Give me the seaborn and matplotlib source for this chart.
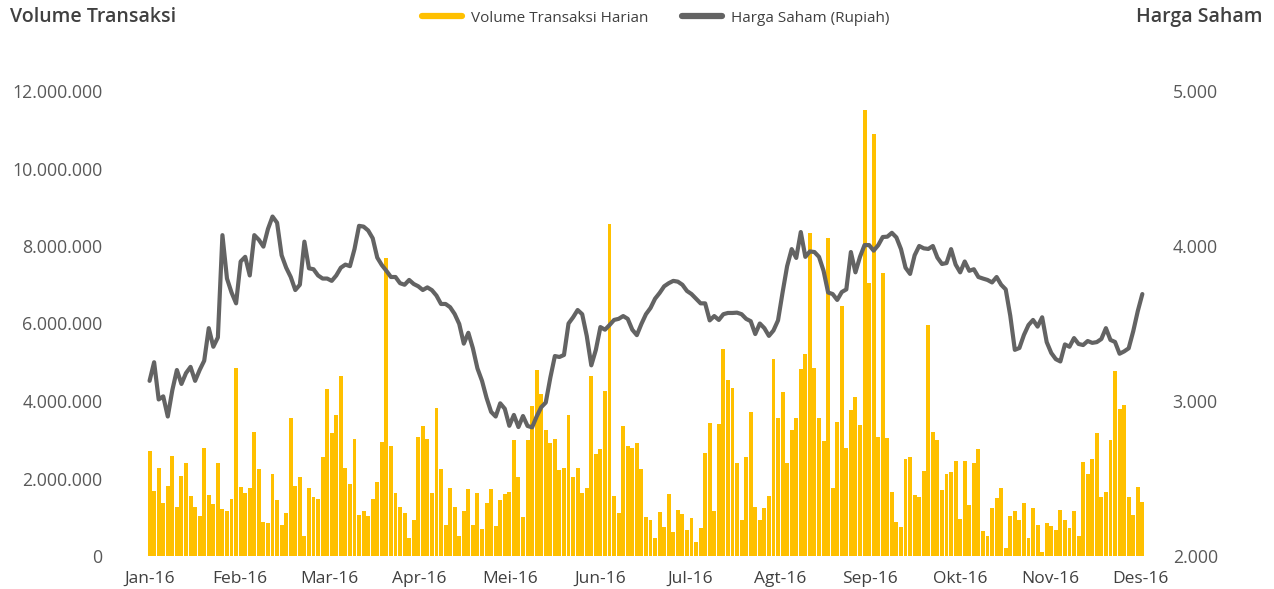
import numpy as np
import pandas as pd
import matplotlib
matplotlib.use("Agg")
import matplotlib.pyplot as plt
import seaborn as sns
from matplotlib.lines import Line2D
from matplotlib.ticker import FuncFormatter

months = ["Jan-16", "Feb-16", "Mar-16", "Apr-16", "Mei-16", "Jun-16",
          "Jul-16", "Agt-16", "Sep-16", "Okt-16", "Nov-16", "Des-16"]

# daily transaction volume, in millions of shares
volume_millions = [
    2.71, 1.68, 2.27, 1.37, 1.81, 2.58, 1.26, 2.06, 2.40, 1.55, 1.26, 1.03, 2.79, 1.57, 1.34, 2.40, 1.21,
    1.16, 1.47, 4.85, 1.78, 1.63, 1.75, 3.20, 2.25, 0.88, 0.85, 2.12, 1.45, 0.80, 1.11, 3.56, 1.81, 2.04, 0.52, 1.75, 1.52, 1.47, 2.55, 4.31,
    3.17, 3.64, 4.65, 2.27, 1.86, 3.02, 1.06, 1.16, 1.03, 1.47, 1.91, 2.94, 7.69, 2.84, 1.63, 1.26, 1.11, 0.46, 0.93, 3.07, 3.35, 3.02, 1.63,
    3.82, 2.25, 0.80, 1.75, 1.26, 0.52, 1.16, 1.73, 0.80, 1.63, 0.70, 1.37, 1.73, 0.77, 1.45, 1.60, 1.65, 2.99, 2.04, 1.01, 2.99, 3.87, 4.80,
    4.18, 3.25, 2.92, 3.02, 2.22, 2.27, 3.64, 2.04, 2.27, 1.63, 1.75, 4.65, 2.63, 2.76, 4.26, 8.57, 1.55, 1.11, 3.35, 2.84, 2.79, 2.92, 2.25,
    1.01, 0.93, 0.46, 1.14, 0.75, 1.60, 0.62, 1.19, 1.08, 0.67, 0.98, 0.36, 0.72, 2.66, 3.43, 1.16, 3.41, 5.34, 4.54, 4.34, 2.40, 0.93, 2.55,
    3.72, 1.26, 0.93, 1.24, 1.55, 5.08, 3.56, 4.23, 2.40, 3.25, 3.56, 4.83, 5.21, 8.34, 4.85, 3.56, 2.97, 8.21, 1.75, 3.46, 6.45, 2.79, 3.77,
    4.10, 3.38, 11.51, 7.05, 10.89, 3.07, 7.30, 3.05, 1.65, 0.88, 0.75, 2.50, 2.55, 1.57, 1.52, 2.19, 5.96, 3.20, 2.99, 1.70, 2.12, 2.17, 2.45,
    0.95, 2.45, 1.32, 2.40, 2.76, 0.65, 0.52, 1.24, 1.50, 1.75, 0.21, 1.03, 1.16, 0.93, 1.37, 0.46, 1.24, 0.80, 0.10, 0.85, 0.77, 0.67, 1.19,
    0.93, 0.72, 1.16, 0.52, 2.43, 2.12, 2.50, 3.17, 1.52, 1.65, 2.99, 4.77, 3.79, 3.90, 1.52, 1.06, 1.78, 1.39,
]

# share price (Rupiah)
price_rupiah = [
    3130, 3250, 3010, 3030, 2900, 3070, 3200, 3110, 3180, 3220, 3130, 3200, 3260, 3470, 3350, 3410, 4070,
    3790, 3700, 3630, 3900, 3930, 3810, 4070, 4040, 3996, 4110, 4190, 4150, 3940, 3860, 3800, 3716, 3750, 4028, 3856, 3850, 3810, 3790, 3790,
    3775, 3810, 3860, 3880, 3870, 3980, 4130, 4125, 4100, 4050, 3925, 3877, 3840, 3800, 3800, 3760, 3750, 3781, 3755, 3740, 3716, 3733, 3715,
    3680, 3626, 3626, 3605, 3561, 3497, 3370, 3440, 3340, 3210, 3130, 3020, 2930, 2900, 2985, 2950, 2840, 2910, 2832, 2903, 2839, 2830, 2900,
    2960, 2990, 3150, 3290, 3284, 3297, 3500, 3540, 3587, 3560, 3420, 3230, 3330, 3477, 3460, 3490, 3523, 3530, 3548, 3530, 3460, 3425, 3497,
    3560, 3600, 3660, 3697, 3740, 3760, 3775, 3770, 3750, 3710, 3690, 3660, 3630, 3630, 3520, 3548, 3523, 3560, 3568, 3568, 3570, 3560, 3530,
    3515, 3432, 3500, 3470, 3420, 3455, 3520, 3700, 3870, 3980, 3923, 4090, 3930, 3965, 3961, 3930, 3840, 3700, 3690, 3652, 3703, 3720, 3961,
    3830, 3930, 4006, 4006, 3970, 4005, 4058, 4060, 4085, 4055, 3980, 3860, 3820, 3940, 4000, 3985, 3981, 4000, 3925, 3884, 3890, 3980, 3880,
    3830, 3900, 3840, 3850, 3800, 3790, 3781, 3765, 3800, 3750, 3720, 3550, 3330, 3342, 3426, 3490, 3523, 3480, 3540, 3380, 3310, 3270, 3255,
    3365, 3350, 3406, 3368, 3361, 3387, 3375, 3380, 3400, 3470, 3394, 3381, 3305, 3320, 3340, 3450, 3580, 3690,
]

BAR = "#FFC000"
LINE = "#636363"
TXT = "#404040"

n = len(volume_millions)
df = pd.DataFrame({
    "day": np.arange(n),
    "volume": np.array(volume_millions) * 1_000_000,
    "price": price_rupiah,
})

sns.set_theme(style="white")
plt.rcParams["font.family"] = ["Open Sans", "DejaVu Sans"]

W, H = 1274, 589
fig = plt.figure(figsize=(W / 100, H / 100), dpi=100)
ax = fig.add_axes([140 / W, 33 / H, 1016 / W, 465 / H])

sns.barplot(data=df, x="day", y="volume", color=BAR, saturation=1,
            width=0.86, native_scale=True, ax=ax, linewidth=0)
ax.set_xlim(-2.1, 221)
ax.set_ylim(0, 12_000_000)

ax2 = ax.twinx()
sns.lineplot(data=df, x="day", y="price", color=LINE, linewidth=3.0, ax=ax2)
ax2.set_ylim(2000, 5000)
ax2.set_xlim(-2.1, 221)

dot = lambda v, p: f"{int(round(v)):,}".replace(",", ".")
ax.set_yticks(np.arange(0, 12_000_001, 2_000_000))
ax.yaxis.set_major_formatter(FuncFormatter(dot))
ax2.set_yticks(np.arange(2000, 5001, 1000))
ax2.yaxis.set_major_formatter(FuncFormatter(dot))

ax.set_xticks(np.linspace(0, 217.5, len(months)))
ax.set_xticklabels(months)

for a in (ax, ax2):
    for s in a.spines.values():
        s.set_visible(False)
    a.set_xlabel("")
    a.set_ylabel("")
    a.grid(False)
ax.tick_params(axis="y", length=0, pad=27, labelsize=12.8, labelcolor="#595959")
ax2.tick_params(axis="y", length=0, pad=12, labelsize=12.8, labelcolor="#595959")
ax.tick_params(axis="x", length=0, pad=11, labelsize=12.5, labelcolor=TXT)
for lbl in ax.get_xticklabels():
    lbl.set_fontweight("medium")

fig.text(10 / W, 1 - 17 / H, "Volume Transaksi", ha="left", va="center",
         fontsize=14, fontweight="semibold", color=TXT)
fig.text(1262 / W, 1 - 17 / H, "Harga Saham", ha="right", va="center",
         fontsize=14, fontweight="semibold", color=TXT)

handles = [Line2D([0], [0], color=BAR, lw=4.5),
           Line2D([0], [0], color=LINE, lw=4.5)]
fig.legend(handles, ["Volume Transaksi Harian", "Harga Saham (Rupiah)"],
           loc="center", bbox_to_anchor=(656 / W, 1 - 18 / H), ncol=2,
           frameon=False, fontsize=11, handlelength=2.6, columnspacing=2.2,
           labelcolor=TXT, handletextpad=0.6)

fig.savefig("out.png", dpi=100)
